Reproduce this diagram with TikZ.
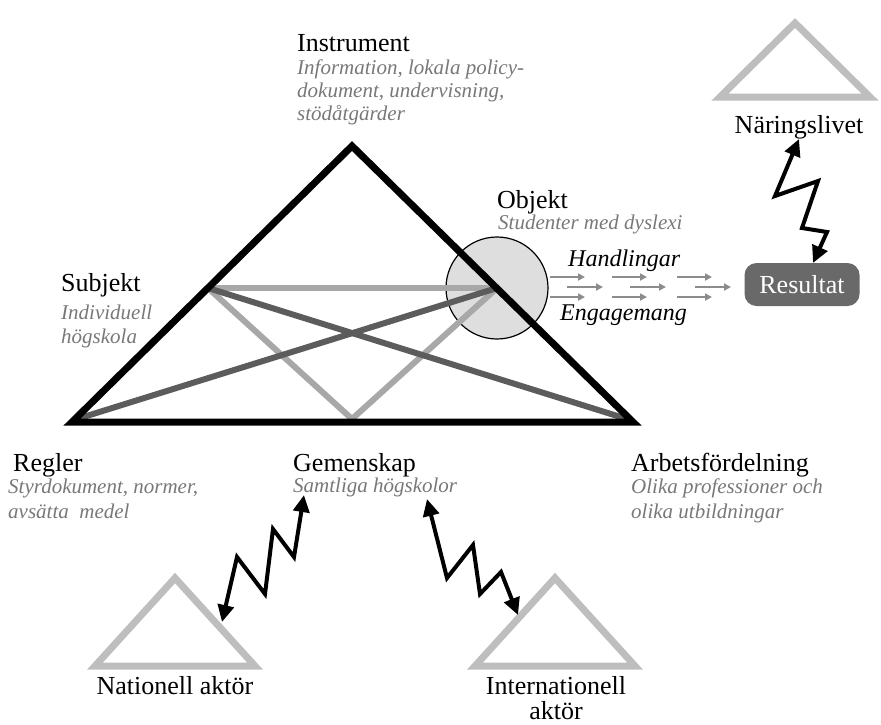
\documentclass[tikz,border=0pt]{standalone}
\usepackage{fontspec}
\setmainfont{Liberation Serif}
\usetikzlibrary{arrows.meta}

\definecolor{lightline}{RGB}{168,168,168}
\definecolor{darkline}{RGB}{92,92,92}
\definecolor{ghost}{RGB}{190,190,190}
\definecolor{subgray}{RGB}{120,120,120}
\definecolor{objfill}{RGB}{222,222,222}
\definecolor{resfill}{RGB}{105,105,105}
\definecolor{flowgray}{RGB}{140,140,140}

\begin{document}
\begin{tikzpicture}[x=1pt,y=-1pt,
  title/.style={anchor=base west, inner sep=0pt, font=\fontsize{26}{30}\selectfont},
  ctitle/.style={anchor=base, inner sep=0pt, font=\fontsize{26}{30}\selectfont},
  note/.style={anchor=base west, inner sep=0pt, text=subgray, font=\fontsize{21}{24}\selectfont\itshape},
  action/.style={anchor=base west, inner sep=0pt, font=\fontsize{24}{28}\selectfont\itshape},
  frame/.style={line width=7pt, line join=miter},
  link/.style={line width=6pt},
  peer/.style={draw=ghost, line width=7pt, line join=miter},
  bolt/.style={line width=4pt, line join=miter,
    {Triangle[length=17pt,width=16pt]}-{Triangle[length=17pt,width=16pt]}},
  flow/.style={draw=flowgray, line width=2pt, -{Triangle[length=7pt,width=7pt]}},
]
\useasboundingbox (0,0) rectangle (881,724);

% corners of the activity triangle
\coordinate (top) at (352,146);
\coordinate (bl) at (72,422);
\coordinate (br) at (633,422);
\coordinate (subj) at (208,288);
\coordinate (obj) at (497,288);
\coordinate (gem) at (352,419);
\coordinate (blin) at (77,419);
\coordinate (brin) at (627,419);

% object circle
\node[circle, draw, line width=1.2pt, fill=objfill, minimum size=102pt, inner sep=0pt] (objcirc) at (obj) {};

% inner relations
\draw[link, lightline] (subj) -- (obj);
\draw[link, lightline, line join=miter] (subj) -- (gem) -- (obj);
\draw[link, darkline] (subj) -- (brin);
\draw[link, darkline] (obj) -- (blin);

% outer triangle
\draw[frame] (top) -- (br) -- (bl) -- cycle;

% labels of the activity system
\node[title] (instr) at (297,51) {Instrument};
\node[note] (instr1) at (297,74) {Information, lokala policy-};
\node[note] (instr2) at (297,97) {dokument, undervisning,};
\node[note] (instr3) at (297,120) {stödåtgärder};

\node[title] (objl) at (497,208) {Objekt};
\node[note] (objn) at (498,229) {Studenter med dyslexi};

\node[title] (subl) at (61,291) {Subjekt};
\node[note] (sub1) at (61,319) {Individuell};
\node[note] (sub2) at (61,343) {högskola};

\node[title] (regl) at (13,471) {Regler};
\node[note] (reg1) at (8,493) {Styrdokument, normer,};
\node[note] (reg2) at (8,518) {avsätta\ \ medel};

\node[title] (geml) at (293,471) {Gemenskap};
\node[note] (gemn) at (293,492) {Samtliga högskolor};

\node[title] (arbl) at (631,471) {Arbetsfördelning};
\node[note] (arb1) at (631,493) {Olika professioner och};
\node[note] (arb2) at (631,518) {olika utbildningar};

% actions towards the result
\node[action] (hand) at (568,266) {Handlingar};
\node[action] (eng) at (560,320) {Engagemang};
\foreach \x in {550,612,677} {
  \draw[flow] (\x,277) -- ++(35,0);
  \draw[flow] (\x,297) -- ++(35,0);
}
\foreach \x in {567,630,695}
  \draw[flow] (\x,287) -- ++(36,0);

\node[rounded corners=12pt, fill=resfill, text=white, minimum width=115pt,
  minimum height=43pt, inner sep=0pt, font=\fontsize{26}{30}\selectfont] (res) at (802,284.5) {Resultat};

% neighbouring activity systems
\draw[peer] (795,23) -- (870,97) -- (720,97) -- cycle;
\node[ctitle] (nar) at (799,133) {Näringslivet};

\draw[peer] (175,578) -- (255,666) -- (95,666) -- cycle;
\node[ctitle] (nat) at (175,694) {Nationell aktör};

\draw[peer] (555,578) -- (635,666) -- (475,666) -- cycle;
\node[ctitle] (int1) at (556,694) {Internationell};
\node[ctitle] (int2) at (556,719) {aktör};

% tensions between systems
\coordinate (narTip) at (799,139);
\coordinate (resTip) at (813,263);
\draw[bolt] (narTip) -- (775,196) -- (818,181) -- (802,228) -- (827,232) -- (resTip);

\coordinate (natTip) at (222,622);
\coordinate (gemTipL) at (304,495);
\draw[bolt] (natTip) -- (237,557) -- (265,594) -- (273,529) -- (294,557) -- (gemTipL);

\coordinate (gemTipR) at (427,499);
\coordinate (intTip) at (518,615);
\draw[bolt] (gemTipR) -- (447,578) -- (473,545) -- (480,594) -- (501,572) -- (intTip);
\end{tikzpicture}
\end{document}
